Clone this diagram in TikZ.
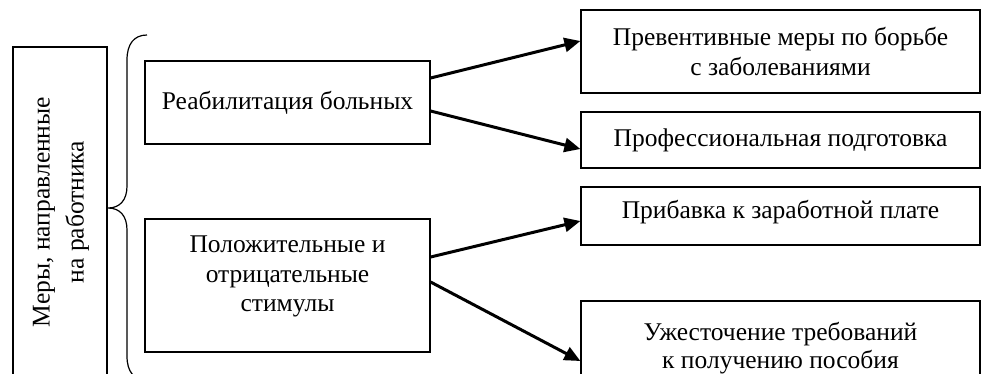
\documentclass[tikz,border=0pt]{standalone}
\usepackage{fontspec}
\setmainfont{Liberation Serif}
\usetikzlibrary{arrows.meta}
\begin{document}
\begin{tikzpicture}[x=1pt,y=-1pt,
  box/.style={draw=black, line width=1.2pt, fill=white, inner sep=0pt, align=center,
    font=\fontsize{25.5}{29.5}\selectfont},
  arr/.style={line width=3pt, -{Triangle[length=16pt,width=14pt]}},
  brace/.style={line width=1.2pt}]
\useasboundingbox (0,0) rectangle (984,373);
\fill[white] (0,0) rectangle (984,373);
% left box
\node[box, minimum width=94pt, minimum height=330pt] (L) at (60,212) {};
\node[align=center, rotate=90, font=\fontsize{25.5}{34}\selectfont] (Lt) at ([xshift=1pt]L.center) {Меры, направленные\\на работника};
% brace
\draw[brace] (147,35) .. controls (134,35) and (127,44) .. (127,60) -- (127,186)
  .. controls (127,200) and (120,208) .. (108,208)
  .. controls (120,208) and (127,216) .. (127,230) -- (127,356)
  .. controls (127,372) and (134,380) .. (147,380);
% middle boxes
\node[box, minimum width=285pt, minimum height=83pt] (b1) at (287.5,102.5) {Реабилитация больных};
\node[box, minimum width=285pt, minimum height=133pt,
  label={[align=center, yshift=9pt, font=\fontsize{25.5}{29.5}\selectfont]center:Положительные и\\отрицательные\\стимулы}] (b2) at (287.5,285.5) {};
% right boxes
\node[box, minimum width=399pt, minimum height=83pt] (A) at (780.5,51.5) {Превентивные меры по борьбе\\с заболеваниями};
\node[box, minimum width=399pt, minimum height=56pt] (B) at (780.5,140) {Профессиональная подготовка};
\node[box, minimum width=399pt, minimum height=58pt,
  label={[yshift=4pt, font=\fontsize{25.5}{29.5}\selectfont]center:Прибавка к заработной плате}] (C) at (780.5,216) {};
\node[box, minimum width=399pt, minimum height=98pt,
  label={[align=center, yshift=2pt, font=\fontsize{25.5}{28.5}\selectfont]center:Ужесточение требований\\к получению пособия}] (D) at (780.5,350) {};
% arrows
\draw[arr] ([yshift=24.5pt]b1.east) -- ([yshift=10.5pt]A.west);
\draw[arr] ([yshift=-8.5pt]b1.east) -- ([yshift=-9pt]B.west);
\draw[arr] ([yshift=28.5pt]b2.east) -- ([yshift=-5pt]C.west);
\draw[arr] ([yshift=3.5pt]b2.east) -- ([yshift=-11pt]D.west);
\end{tikzpicture}
\end{document}
